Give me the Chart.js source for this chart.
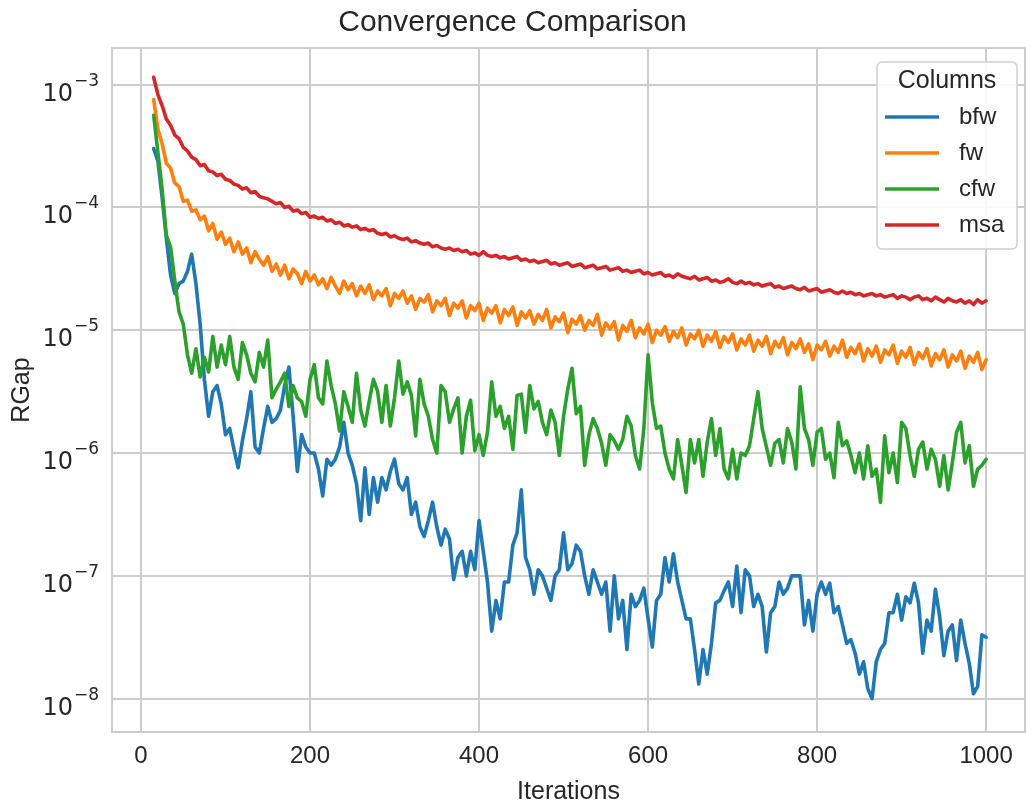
<!DOCTYPE html>
<html>
<head>
<meta charset="utf-8">
<title>Convergence Comparison</title>
<script src="https://cdn.jsdelivr.net/npm/chart.js@4.4.1/dist/chart.umd.min.js"></script>
<style>
  html, body { margin: 0; padding: 0; background: #fff; }
  #wrap { width: 1026px; height: 809px; }
</style>
</head>
<body>
<div id="wrap"><canvas id="convChart" width="1026" height="809"></canvas></div>
<script>
// iteration numbers (x)
const iterations = [
  15, 20, 25, 30, 35, 40, 45, 50, 55, 60,
  65, 70, 75, 80, 85, 90, 95, 100, 105, 110,
  115, 120, 125, 130, 135, 140, 145, 150, 155, 160,
  165, 170, 175, 180, 185, 190, 195, 200, 205, 210,
  215, 220, 225, 230, 235, 240, 245, 250, 255, 260,
  265, 270, 275, 280, 285, 290, 295, 300, 305, 310,
  315, 320, 325, 330, 335, 340, 345, 350, 355, 360,
  365, 370, 375, 380, 385, 390, 395, 400, 405, 410,
  415, 420, 425, 430, 435, 440, 445, 450, 455, 460,
  465, 470, 475, 480, 485, 490, 495, 500, 505, 510,
  515, 520, 525, 530, 535, 540, 545, 550, 555, 560,
  565, 570, 575, 580, 585, 590, 595, 600, 605, 610,
  615, 620, 625, 630, 635, 640, 645, 650, 655, 660,
  665, 670, 675, 680, 685, 690, 695, 700, 705, 710,
  715, 720, 725, 730, 735, 740, 745, 750, 755, 760,
  765, 770, 775, 780, 785, 790, 795, 800, 805, 810,
  815, 820, 825, 830, 835, 840, 845, 850, 855, 860,
  865, 870, 875, 880, 885, 890, 895, 900, 905, 910,
  915, 920, 925, 930, 935, 940, 945, 950, 955, 960,
  965, 970, 975, 980, 985, 990, 995, 1000
];

// log10(RGap), one value per iteration above
const bfwLog = [
  -3.52, -3.62, -3.92, -4.25, -4.55, -4.70, -4.62, -4.60, -4.52, -4.38,
  -4.62, -4.95, -5.40, -5.70, -5.50, -5.45, -5.60, -5.85, -5.80, -5.97,
  -6.12, -5.90, -5.72, -5.50, -5.95, -6.00, -5.80, -5.62, -5.75, -5.72,
  -5.65, -5.45, -5.30, -5.70, -6.15, -5.85, -5.95, -6.00, -6.00, -6.13,
  -6.35, -6.05, -6.10, -6.05, -5.95, -5.75, -6.00, -6.10, -6.25, -6.55,
  -6.12, -6.50, -6.20, -6.40, -6.20, -6.30, -6.15, -6.05, -6.25, -6.30,
  -6.20, -6.50, -6.40, -6.60, -6.68, -6.55, -6.40, -6.60, -6.75, -6.62,
  -6.70, -7.03, -6.85, -6.80, -7.00, -6.80, -6.95, -6.55, -6.80, -7.05,
  -7.45, -7.20, -7.35, -7.05, -7.05, -6.75, -6.65, -6.30, -6.85, -6.95,
  -7.15, -6.95, -7.00, -7.10, -7.20, -7.00, -6.95, -6.65, -6.95, -6.90,
  -6.75, -6.80, -7.00, -7.15, -6.95, -7.05, -7.15, -7.05, -7.45, -7.00,
  -7.35, -7.20, -7.60, -7.15, -7.25, -7.20, -7.10, -7.35, -7.58, -7.20,
  -7.15, -6.85, -7.05, -6.82, -7.05, -7.20, -7.35, -7.35, -7.60, -7.88,
  -7.60, -7.80, -7.55, -7.22, -7.20, -7.12, -7.05, -7.25, -6.92, -7.30,
  -6.95, -7.00, -7.25, -7.15, -7.25, -7.62, -7.30, -7.25, -7.05, -7.15,
  -7.10, -7.00, -7.00, -7.00, -7.40, -7.20, -7.45, -7.15, -7.05, -7.15,
  -7.06, -7.30, -7.25, -7.40, -7.55, -7.52, -7.63, -7.80, -7.70, -7.92,
  -8.00, -7.70, -7.60, -7.55, -7.30, -7.30, -7.15, -7.36, -7.17, -7.22,
  -7.06, -7.22, -7.63, -7.36, -7.45, -7.11, -7.33, -7.65, -7.45, -7.40,
  -7.69, -7.36, -7.55, -7.71, -7.96, -7.90, -7.48, -7.50
];
const fwLog = [
  -3.12, -3.36, -3.48, -3.64, -3.68, -3.80, -3.83, -3.95, -3.94, -4.03,
  -4.02, -4.10, -4.07, -4.19, -4.13, -4.26, -4.20, -4.30, -4.25, -4.36,
  -4.28, -4.38, -4.33, -4.45, -4.36, -4.42, -4.47, -4.40, -4.52, -4.46,
  -4.55, -4.47, -4.58, -4.50, -4.54, -4.62, -4.52, -4.60, -4.55, -4.63,
  -4.58, -4.66, -4.57, -4.64, -4.70, -4.60, -4.67, -4.62, -4.72, -4.64,
  -4.70, -4.63, -4.75, -4.68, -4.72, -4.66, -4.80, -4.70, -4.74, -4.68,
  -4.78, -4.72, -4.83, -4.74, -4.77, -4.71, -4.85, -4.76, -4.80, -4.74,
  -4.88, -4.78, -4.82, -4.76, -4.90, -4.80, -4.84, -4.78, -4.92, -4.82,
  -4.86, -4.80, -4.94, -4.83, -4.88, -4.81, -4.96, -4.85, -4.90, -4.84,
  -4.95, -4.87, -4.92, -4.83, -4.98, -4.89, -4.93, -4.86, -5.02, -4.91,
  -4.95, -4.88, -5.00, -4.92, -4.96, -4.87, -5.04, -4.94, -4.99, -4.93,
  -5.08, -4.96, -5.01, -4.92, -5.06, -4.98, -5.03, -4.95, -5.10, -5.00,
  -5.04, -4.97, -5.09, -5.01, -5.06, -4.98, -5.12, -5.03, -5.07, -5.00,
  -5.13, -5.04, -5.09, -5.01, -5.14, -5.05, -5.10, -5.03, -5.16, -5.07,
  -5.12, -5.04, -5.17, -5.08, -5.13, -5.05, -5.19, -5.09, -5.14, -5.06,
  -5.20, -5.10, -5.15, -5.07, -5.18, -5.11, -5.24, -5.12, -5.16, -5.09,
  -5.21, -5.13, -5.18, -5.08, -5.22, -5.14, -5.19, -5.11, -5.25, -5.15,
  -5.21, -5.13, -5.26, -5.16, -5.20, -5.12, -5.27, -5.17, -5.22, -5.14,
  -5.28, -5.18, -5.23, -5.15, -5.29, -5.19, -5.24, -5.16, -5.30, -5.20,
  -5.25, -5.17, -5.31, -5.21, -5.26, -5.18, -5.32, -5.24
];
const cfwLog = [
  -3.25, -3.55, -3.85, -4.23, -4.32, -4.60, -4.85, -4.95, -5.20, -5.35,
  -5.15, -5.38, -5.22, -5.34, -5.05, -5.30, -5.12, -5.28, -5.05, -5.30,
  -5.40, -5.10, -5.20, -5.35, -5.42, -5.18, -5.30, -5.08, -5.55, -5.48,
  -5.42, -5.35, -5.62, -5.45, -5.55, -5.58, -5.70, -5.40, -5.28, -5.55,
  -5.60, -5.25, -5.45, -5.60, -5.82, -5.50, -5.62, -5.75, -5.35, -5.65,
  -5.78, -5.58, -5.40, -5.50, -5.75, -5.45, -5.78, -5.55, -5.25, -5.52,
  -5.42, -5.53, -5.86, -5.40, -5.60, -5.70, -5.89, -6.00, -5.45, -5.50,
  -5.75, -5.64, -5.55, -6.00, -5.70, -5.57, -5.98, -5.85, -6.02, -5.83,
  -5.42, -5.70, -5.62, -5.80, -5.70, -5.97, -5.53, -5.52, -5.83, -5.45,
  -5.64, -5.58, -5.75, -5.85, -5.65, -5.75, -6.02, -5.70, -5.48, -5.31,
  -5.68, -5.62, -6.10, -5.85, -5.72, -5.80, -5.92, -6.10, -5.85, -5.90,
  -5.97, -5.89, -5.70, -5.78, -6.02, -6.13, -5.80, -5.20, -5.59, -5.80,
  -5.78, -6.00, -6.13, -6.21, -5.89, -6.10, -6.32, -5.89, -6.08, -5.89,
  -6.19, -5.91, -5.72, -6.02, -5.80, -6.13, -6.21, -5.97, -6.21, -6.00,
  -6.02, -5.94, -5.72, -5.50, -5.80, -5.95, -6.10, -5.92, -5.89, -6.08,
  -5.80, -5.91, -6.13, -5.46, -5.80, -5.89, -6.10, -5.83, -5.80, -6.05,
  -6.00, -6.20, -5.75, -5.94, -5.90, -6.02, -6.16, -6.00, -6.21, -5.94,
  -6.19, -6.13, -6.40, -5.86, -6.16, -6.00, -6.24, -5.75, -5.80, -6.02,
  -6.19, -5.97, -5.91, -6.13, -5.97, -6.05, -6.27, -6.02, -6.30, -6.08,
  -5.83, -5.75, -6.08, -5.94, -6.27, -6.13, -6.10, -6.05
];
const msaLog = [
  -2.94, -3.08, -3.17, -3.28, -3.33, -3.41, -3.44, -3.51, -3.54, -3.59,
  -3.61, -3.66, -3.65, -3.70, -3.71, -3.74, -3.73, -3.77, -3.78, -3.81,
  -3.82, -3.85, -3.84, -3.88, -3.87, -3.91, -3.92, -3.93, -3.95, -3.97,
  -3.96, -4.00, -3.99, -4.03, -4.02, -4.05, -4.04, -4.08, -4.07, -4.09,
  -4.08, -4.11, -4.10, -4.13, -4.12, -4.15, -4.14, -4.16, -4.15, -4.18,
  -4.17, -4.19, -4.18, -4.21, -4.22, -4.21, -4.24, -4.23, -4.25, -4.26,
  -4.25, -4.28, -4.27, -4.29, -4.30, -4.29, -4.32, -4.31, -4.33, -4.34,
  -4.33, -4.35, -4.34, -4.36, -4.35, -4.38, -4.37, -4.39, -4.36, -4.39,
  -4.40, -4.39, -4.41, -4.40, -4.42, -4.41, -4.40, -4.43, -4.42, -4.44,
  -4.43, -4.45, -4.44, -4.43, -4.46, -4.45, -4.47, -4.46, -4.45, -4.48,
  -4.47, -4.46, -4.49, -4.48, -4.47, -4.50, -4.49, -4.48, -4.51, -4.50,
  -4.49, -4.52, -4.51, -4.53, -4.52, -4.51, -4.54, -4.53, -4.55, -4.54,
  -4.53, -4.56, -4.55, -4.57, -4.54, -4.56, -4.57, -4.58, -4.56, -4.59,
  -4.58, -4.57, -4.60, -4.59, -4.61, -4.60, -4.58, -4.61, -4.62, -4.60,
  -4.62, -4.61, -4.63, -4.62, -4.64, -4.63, -4.62, -4.65, -4.64, -4.66,
  -4.65, -4.64, -4.66, -4.67, -4.65, -4.68, -4.67, -4.66, -4.69, -4.68,
  -4.67, -4.69, -4.70, -4.68, -4.70, -4.69, -4.71, -4.70, -4.72, -4.71,
  -4.70, -4.72, -4.71, -4.73, -4.72, -4.71, -4.74, -4.72, -4.73, -4.75,
  -4.73, -4.72, -4.75, -4.74, -4.76, -4.73, -4.75, -4.77, -4.74, -4.76,
  -4.77, -4.75, -4.78, -4.76, -4.79, -4.75, -4.78, -4.76
];

const seriesNames = ["bfw", "fw", "cfw", "msa"];
const seriesColors = ["#1f77b4", "#ff7f0e", "#2ca02c", "#d62728"];

const xTicks = [0, 200, 400, 600, 800, 1000];
const yTicks = [1e-8, 1e-7, 1e-6, 1e-5, 1e-4, 1e-3];
const yTickBase = "10";
const yTickExps = ["\u22128", "\u22127", "\u22126", "\u22125", "\u22124", "\u22123"];

const FONT = "'Liberation Sans', Arial, sans-serif";
const MATH_FONT = "'DejaVu Sans', sans-serif";
const TEXT = "#262626";
const GRID = "#cccccc";

function toPoints(logs) {
  return logs.map((v, i) => ({ x: iterations[i], y: Math.pow(10, v) }));
}

// light grey frame round the plot area (seaborn whitegrid spines)
const frame = {
  id: "frame",
  beforeDatasetsDraw(chart) {
    const { ctx, chartArea: a } = chart;
    ctx.save();
    ctx.strokeStyle = GRID;
    ctx.lineWidth = 2;
    ctx.strokeRect(a.left, a.top, a.right - a.left, a.bottom - a.top);
    ctx.restore();
  }
};

// y tick labels as 10 with a raised exponent, like matplotlib mathtext
const powerLabels = {
  id: "powerLabels",
  afterDraw(chart) {
    const { ctx } = chart;
    const y = chart.scales.y;
    const right = y.right - 13;
    ctx.save();
    ctx.fillStyle = TEXT;
    ctx.textAlign = "right";
    ctx.textBaseline = "alphabetic";
    yTicks.forEach((v, i) => {
      const py = y.getPixelForValue(v);
      ctx.font = "17px " + MATH_FONT;
      const expW = ctx.measureText(yTickExps[i]).width;
      ctx.fillText(yTickExps[i], right, py + 1);
      ctx.font = "24px " + MATH_FONT;
      ctx.fillText(yTickBase, right - expW - 1, py + 16);
    });
    ctx.restore();
  }
};

// matplotlib style legend box in the upper right corner
const boxLegend = {
  id: "boxLegend",
  afterDraw(chart) {
    const { ctx, chartArea } = chart;
    const w = 140, h = 187;
    const x0 = chartArea.right - 8 - w;
    const y0 = chartArea.top + 14;
    ctx.save();
    ctx.beginPath();
    ctx.roundRect(x0, y0, w, h, 5);
    ctx.fillStyle = "rgba(255,255,255,0.85)";
    ctx.fill();
    ctx.strokeStyle = "#d0d0d0";
    ctx.lineWidth = 1.5;
    ctx.stroke();

    ctx.fillStyle = TEXT;
    ctx.textBaseline = "middle";
    ctx.textAlign = "center";
    ctx.font = "25px " + FONT;
    ctx.fillText("Columns", x0 + w / 2, y0 + 19);

    ctx.textAlign = "left";
    ctx.font = "24px " + FONT;
    chart.data.datasets.forEach((ds, i) => {
      const y = y0 + 55 + i * 36;
      ctx.strokeStyle = ds.borderColor;
      ctx.lineWidth = 3.5;
      ctx.beginPath();
      ctx.moveTo(x0 + 8, y);
      ctx.lineTo(x0 + 62, y);
      ctx.stroke();
      ctx.fillStyle = TEXT;
      ctx.fillText(ds.label, x0 + 82, y);
    });
    ctx.restore();
  }
};

const seriesLogs = [bfwLog, fwLog, cfwLog, msaLog];

const ctx = document.getElementById("convChart").getContext("2d");
const convChart = new Chart(ctx, {
  type: "line",
  data: {
    datasets: seriesNames.map((name, i) => ({
      label: name,
      data: toPoints(seriesLogs[i]),
      borderColor: seriesColors[i],
      backgroundColor: seriesColors[i],
      borderWidth: 3.6,
      borderJoinStyle: "round",
      borderCapStyle: "round",
      pointRadius: 0,
      tension: 0,
      fill: false,
      order: 4 - i, // msa drawn last, on top
    })),
  },
  options: {
    responsive: false,
    animation: false,
    devicePixelRatio: 1,
    layout: { padding: { left: 0, right: 1, top: 0, bottom: 0 } },
    plugins: {
      legend: { display: false },
      tooltip: { enabled: false },
      title: {
        display: true,
        text: "Convergence Comparison",
        color: TEXT,
        font: { family: FONT, size: 30, weight: "normal" },
        padding: { top: 5, bottom: 7 },
      },
    },
    scales: {
      x: {
        type: "linear",
        min: -34.3,
        max: 1046,
        afterBuildTicks: (scale) => {
          scale.ticks = xTicks.map((v) => ({ value: v }));
        },
        afterFit: (scale) => {
          scale.height = 77;
        },
        ticks: {
          color: TEXT,
          font: { family: FONT, size: 24 },
          padding: 10,
          maxRotation: 0,
          autoSkip: false,
          callback: (value) => String(value),
        },
        grid: { color: GRID, lineWidth: 2, drawTicks: false },
        border: { display: false },
        title: {
          display: true,
          text: "Iterations",
          color: TEXT,
          font: { family: FONT, size: 25 },
          padding: { top: 0, bottom: 2 },
        },
      },
      y: {
        type: "logarithmic",
        min: 5.35e-9,
        max: 1.99e-3,
        afterBuildTicks: (scale) => {
          scale.ticks = yTicks.map((v) => ({ value: v }));
        },
        afterFit: (scale) => {
          scale.width = 112;
        },
        ticks: { display: false },
        grid: { color: GRID, lineWidth: 2, drawTicks: false },
        border: { display: false },
        title: {
          display: true,
          text: "RGap",
          color: TEXT,
          font: { family: FONT, size: 25 },
          padding: { top: 7, bottom: 0 },
        },
      },
    },
  },
  plugins: [frame, powerLabels, boxLegend],
});
</script>
</body>
</html>
